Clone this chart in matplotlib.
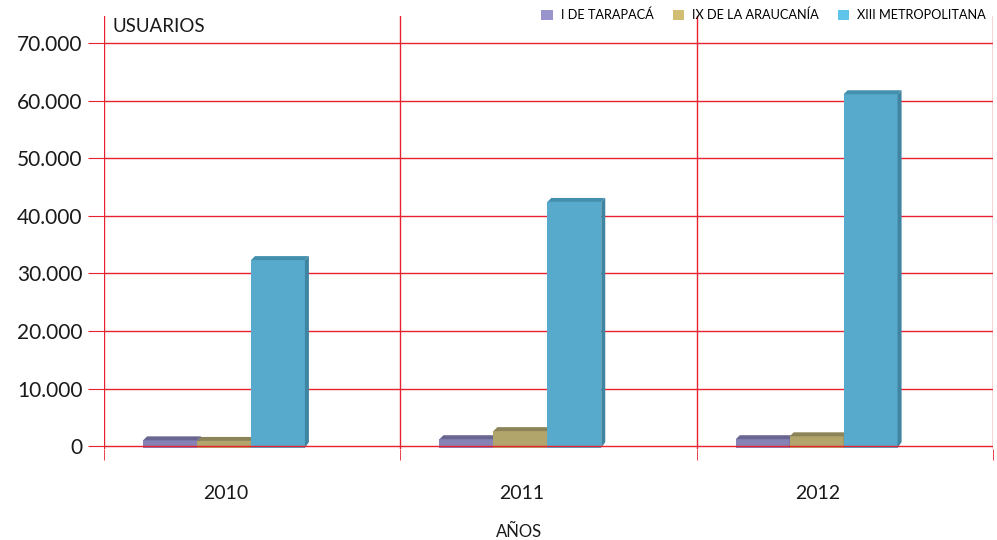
import matplotlib.pyplot as plt
from matplotlib.patches import Polygon
from matplotlib.ticker import FuncFormatter

years = ['2010', '2011', '2012']
series = ['I DE TARAPACÁ', 'IX DE LA ARAUCANÍA', 'XIII METROPOLITANA']
tarapaca = [1000, 1200, 1200]
araucania = [900, 2600, 1700]
metropolitana = [32300, 42400, 61100]
values = [tarapaca, araucania, metropolitana]

front = ['#8682b6', '#b2a56c', '#57aacb']
top = ['#6a6692', '#8c8358', '#4290ad']
side = ['#5d5a82', '#7d7550', '#3f84a0']
legend_col = ['#9a94cc', '#d2bd74', '#5fc4ea']

plt.rcParams['font.family'] = ['Lato', 'DejaVu Sans']
red = '#e8222e'

fig = plt.figure(figsize=(9.97, 5.4), dpi=100)
ax = fig.add_axes([104 / 997, 1 - 449 / 540, 889 / 997, 433 / 540])
ax.set_xlim(0, 3)
ax.set_ylim(-500, 74690)

w = 0.182
dx = 4 / 296.3
dy = 695
for i in range(3):
    c = i + 0.405
    for k in range(3):
        x0 = c + (k - 1.5) * w
        h = values[k][i]
        ax.add_patch(Polygon([(x0, -300), (x0 + w, -300), (x0 + w, h), (x0, h)],
                             closed=True, fc=front[k], ec='none', zorder=3))
        ax.add_patch(Polygon([(x0, h), (x0 + w, h), (x0 + w + dx, h + dy), (x0 + dx, h + dy)],
                             closed=True, fc=top[k], ec='none', zorder=3))
        ax.add_patch(Polygon([(x0 + w, -300), (x0 + w + dx, dy), (x0 + w + dx, h + dy), (x0 + w, h)],
                             closed=True, fc=side[k], ec='none', zorder=3))

for yv in range(0, 70001, 10000):
    ax.axhline(yv, color=red, lw=1, zorder=2 if yv else 4)
for xv in range(4):
    ax.axvline(xv, color=red, lw=1, zorder=2)

for s in ax.spines.values():
    s.set_visible(False)
ax.set_yticks(range(0, 70001, 10000))
ax.yaxis.set_major_formatter(FuncFormatter(lambda v, p: '{:,.0f}'.format(v).replace(',', '.')))
ax.tick_params(axis='y', length=11.5, color=red, labelsize=15, pad=4, labelcolor='#1a1a1a')
ax.set_xticks([0, 1, 2, 3], minor=True)
ax.tick_params(axis='x', which='minor', length=8, color=red)
ax.set_xticks([i + 0.41 for i in range(3)])
ax.set_xticklabels(years)
ax.tick_params(axis='x', which='major', length=0, labelsize=14, pad=26, labelcolor='#1a1a1a')

fig.text(112 / 997, 1 - 26 / 540, 'USUARIOS', fontsize=13.5, va='center', color='#1a1a1a')
fig.text(519 / 997, 1 - 532 / 540, 'AÑOS', fontsize=12, ha='center', va='center', color='#1a1a1a')

handles = [plt.Rectangle((0, 0), 1, 1, fc=legend_col[k]) for k in range(3)]
fig.legend(handles, series, loc='upper right', bbox_to_anchor=(1.0, 1.005), ncol=3, frameon=False,
           fontsize=9.2, handlelength=0.9, handleheight=0.9, handletextpad=0.6, columnspacing=1.5)

fig.savefig('out.png', dpi=100)
